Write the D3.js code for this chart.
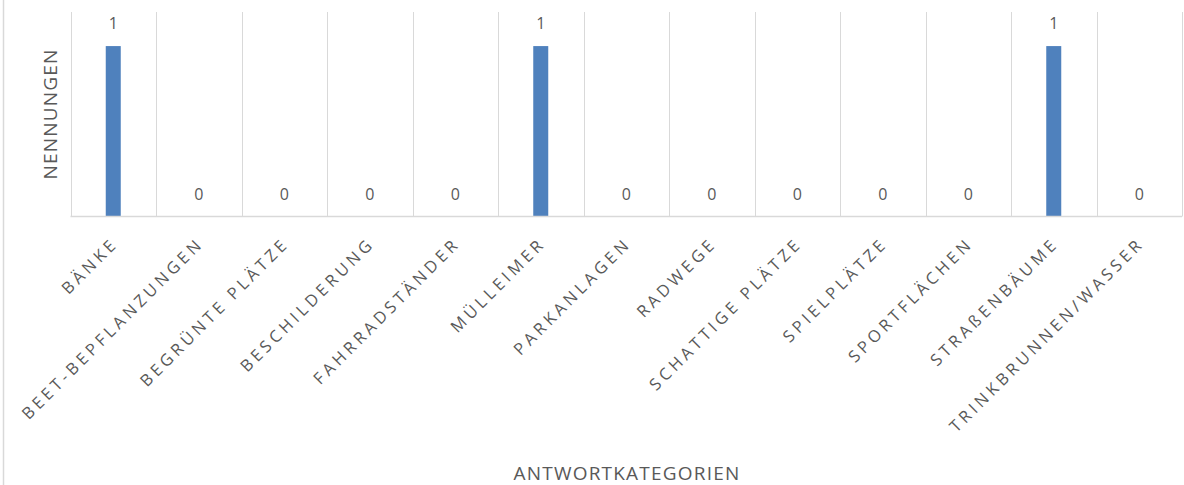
<!DOCTYPE html>
<html>
<head>
<meta charset="utf-8">
<script src="https://cdn.jsdelivr.net/npm/d3@7"></script>
<style>
  html, body { margin: 0; padding: 0; background: #fff; }
  svg { display: block; }
</style>
</head>
<body>
<svg id="chart" width="1184" height="485"></svg>
<script>
// Antwortkategorien und Anzahl der Nennungen
const categories = [
  "Bänke", "Beet-Bepflanzungen", "Begrünte Plätze", "Beschilderung",
  "Fahrradständer", "Mülleimer", "Parkanlagen", "Radwege",
  "Schattige Plätze", "Spielplätze", "Sportflächen", "Straßenbäume",
  "Trinkbrunnen/Wasser"
];
const values = [1, 0, 0, 0, 0, 1, 0, 0, 0, 0, 0, 1, 0];
const yDomain = [0, 1.2];

const svg = d3.select("#chart");
const W = 1184, H = 485;
const plot = { left: 70.5, right: 1182, top: 12, bottom: 216.5 };

const textColor = "#595959";
const gridColor = "#d9d9d9";
const barColor = "#4f81bd";
const font = "'Open Sans', sans-serif";

// Großschreibung, bei der das ß erhalten bleibt
const upper = s => s.split("ß").map(p => p.toUpperCase()).join("ß");

// Rahmen des Diagrammbereichs
svg.append("line")
  .attr("x1", 3.5).attr("x2", 3.5).attr("y1", 0).attr("y2", H)
  .attr("stroke", gridColor).attr("stroke-width", 1.5);

const x = d3.scaleBand().domain(categories)
  .range([plot.left, plot.right]).paddingInner(0).paddingOuter(0);
const y = d3.scaleLinear().domain(yDomain).range([plot.bottom, plot.top]);

// Trennlinien zwischen den Kategorien
const edges = categories.map(c => x(c)).concat([plot.right]);
svg.append("g").selectAll("line").data(edges).join("line")
  .attr("x1", d => Math.round(d) + 0.5).attr("x2", d => Math.round(d) + 0.5)
  .attr("y1", y(yDomain[1])).attr("y2", plot.bottom)
  .attr("stroke", gridColor).attr("stroke-width", 1);

// Säulen
const barW = 15;
svg.append("g").selectAll("rect").data(categories).join("rect")
  .attr("x", (c) => x(c) + x.bandwidth() / 2 - barW / 2)
  .attr("y", (c, i) => y(values[i]))
  .attr("width", barW)
  .attr("height", (c, i) => plot.bottom - y(values[i]))
  .attr("fill", barColor);

// x-Achse
const xAxis = svg.append("g")
  .attr("transform", `translate(0,${plot.bottom})`)
  .call(d3.axisBottom(x).tickSize(0).tickPadding(0));
xAxis.select(".domain").attr("stroke", gridColor).attr("stroke-width", 1.5)
  .attr("d", `M${plot.left},0H${plot.right}`);
xAxis.selectAll(".tick text")
  .text(d => upper(d))
  .attr("fill", textColor)
  .attr("font-family", font)
  .attr("font-size", 16.5)
  .attr("letter-spacing", 3.8)
  .attr("text-anchor", "end")
  .attr("y", 0)
  .attr("dy", 0)
  .attr("transform", "translate(6,28) rotate(-45)");

// Datenbeschriftungen
svg.append("g").selectAll("text").data(categories).join("text")
  .attr("x", c => x(c) + x.bandwidth() / 2)
  .attr("y", (c, i) => y(values[i]) - 17)
  .attr("text-anchor", "middle")
  .attr("fill", textColor)
  .attr("font-family", font)
  .attr("font-size", 16)
  .text((c, i) => values[i]);

// Achsentitel
svg.append("text")
  .attr("transform", `translate(57,${114}) rotate(-90)`)
  .attr("text-anchor", "middle")
  .attr("fill", textColor)
  .attr("font-family", font)
  .attr("font-size", 19)
  .attr("letter-spacing", 1.2)
  .text("NENNUNGEN");

svg.append("text")
  .attr("x", 627)
  .attr("y", 480)
  .attr("text-anchor", "middle")
  .attr("fill", textColor)
  .attr("font-family", font)
  .attr("font-size", 19)
  .attr("letter-spacing", 1.2)
  .text("ANTWORTKATEGORIEN");
</script>
</body>
</html>
